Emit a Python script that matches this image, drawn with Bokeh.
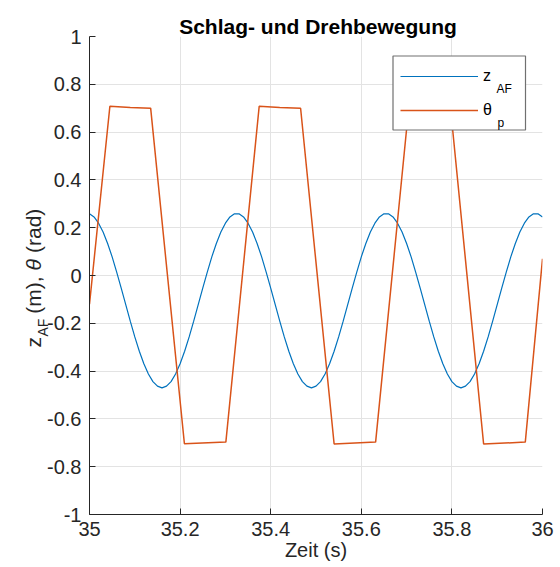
import math
from bokeh.plotting import figure
from bokeh.models import Range1d, FixedTicker, Label, Legend, LegendItem, BoxAnnotation
from bokeh.embed import file_html
from bokeh.resources import INLINE

# ---------------- data ----------------
t_z = [35.00, 35.01, 35.02, 35.03, 35.04, 35.05, 35.06, 35.07, 35.08, 35.09,
       35.10, 35.11, 35.12, 35.13, 35.14, 35.15, 35.16, 35.17, 35.18, 35.19,
       35.20, 35.21, 35.22, 35.23, 35.24, 35.25, 35.26, 35.27, 35.28, 35.29,
       35.30, 35.31, 35.32, 35.33, 35.34, 35.35, 35.36, 35.37, 35.38, 35.39,
       35.40, 35.41, 35.42, 35.43, 35.44, 35.45, 35.46, 35.47, 35.48, 35.49,
       35.50, 35.51, 35.52, 35.53, 35.54, 35.55, 35.56, 35.57, 35.58, 35.59,
       35.60, 35.61, 35.62, 35.63, 35.64, 35.65, 35.66, 35.67, 35.68, 35.69,
       35.70, 35.71, 35.72, 35.73, 35.74, 35.75, 35.76, 35.77, 35.78, 35.79,
       35.80, 35.81, 35.82, 35.83, 35.84, 35.85, 35.86, 35.87, 35.88, 35.89,
       35.90, 35.91, 35.92, 35.93, 35.94, 35.95, 35.96, 35.97, 35.98, 35.99,
       36.00]
z_af = [0.258, 0.245, 0.219, 0.182, 0.134, 0.078, 0.014, -0.053, -0.122, -0.191,
        -0.257, -0.317, -0.369, -0.412, -0.444, -0.463, -0.470, -0.463, -0.444, -0.412,
        -0.369, -0.317, -0.257, -0.191, -0.122, -0.053, 0.014, 0.078, 0.134, 0.182,
        0.219, 0.245, 0.258, 0.258, 0.245, 0.219, 0.182, 0.134, 0.078, 0.014,
        -0.053, -0.122, -0.191, -0.257, -0.317, -0.369, -0.412, -0.444, -0.463, -0.470,
        -0.463, -0.444, -0.412, -0.369, -0.317, -0.257, -0.191, -0.122, -0.053, 0.014,
        0.078, 0.134, 0.182, 0.219, 0.245, 0.258, 0.258, 0.245, 0.219, 0.182,
        0.134, 0.078, 0.014, -0.053, -0.122, -0.191, -0.257, -0.317, -0.369, -0.412,
        -0.444, -0.463, -0.470, -0.463, -0.444, -0.412, -0.369, -0.317, -0.257, -0.191,
        -0.122, -0.053, 0.014, 0.078, 0.134, 0.182, 0.219, 0.245, 0.258, 0.258,
        0.245]

t_theta = [35.000, 35.045, 35.090, 35.135, 35.2095, 35.301, 35.3746, 35.420, 35.466,
           35.540, 35.6316, 35.705, 35.750, 35.797, 35.870, 35.962, 36.000]
theta_p = [-0.120, 0.708, 0.703, 0.700, -0.704, -0.697, 0.708, 0.703, 0.700,
           -0.705, -0.697, 0.708, 0.703, 0.700, -0.705, -0.697, 0.070]

x_ticks = [35.0, 35.2, 35.4, 35.6, 35.8, 36.0]
x_tick_labels = ["35", "35.2", "35.4", "35.6", "35.8", "36"]
y_ticks = [-1.0, -0.8, -0.6, -0.4, -0.2, 0.0, 0.2, 0.4, 0.6, 0.8, 1.0]
y_tick_labels = ["-1", "-0.8", "-0.6", "-0.4", "-0.2", "0", "0.2", "0.4", "0.6", "0.8", "1"]

title_text = "Schlag- und Drehbewegung"
x_label = "Zeit (s)"
NB = "\u00a0"
y_label_main = "z" + NB * 4 + "(m)," + NB * 4 + "(rad)"
y_label_sub = "AF"
y_label_theta = "θ"
legend_labels = ["z", "θ"]
legend_subs = ["AF", "p"]

BLUE = "#0072BD"
ORANGE = "#D95319"
AX = "#262626"
FONT = "Liberation Sans"

# ---------------- layout constants ----------------
W, H = 560, 567
BL, BR, BT, BB = 89, 18, 36, 53
X0, X1, Y0, Y1 = 35.0, 36.0, -1.0, 1.0
frame_w = W - BL - BR
frame_h = H - BT - BB


def sx_to_x(sx):
    return X0 + (sx - BL) / frame_w * (X1 - X0)


def sy_to_y(sy):
    return Y1 - (sy - BT) / frame_h * (Y1 - Y0)


p = figure(width=W, height=H, output_backend="svg", toolbar_location=None,
           x_range=Range1d(X0, X1), y_range=Range1d(Y0, Y1),
           min_border_left=BL, min_border_right=BR, min_border_top=BT,
           min_border_bottom=BB)
p.outline_line_color = None
p.background_fill_color = "white"

for ax in (p.xaxis, p.yaxis):
    ax.axis_line_color = AX
    ax.axis_line_width = 1
    ax.major_tick_line_color = AX
    ax.major_tick_in = 6
    ax.major_tick_out = 0
    ax.minor_tick_line_color = None
    ax.major_label_text_font = FONT
    ax.major_label_text_font_size = "20px"
    ax.major_label_text_color = AX

p.xaxis.ticker = FixedTicker(ticks=x_ticks)
p.xaxis.major_label_overrides = dict(zip(x_ticks, x_tick_labels))
p.yaxis.ticker = FixedTicker(ticks=y_ticks)
p.yaxis.major_label_overrides = dict(zip(y_ticks, y_tick_labels))
p.xaxis.major_label_standoff = 7
p.yaxis.major_label_standoff = 8

p.xaxis.axis_label = x_label
p.xaxis.axis_label_text_font = FONT
p.xaxis.axis_label_text_font_size = "20px"
p.xaxis.axis_label_text_font_style = "normal"
p.xaxis.axis_label_text_color = AX
p.xaxis.axis_label_standoff = 0

p.xgrid.ticker = FixedTicker(ticks=x_ticks)
p.ygrid.ticker = FixedTicker(ticks=y_ticks)
p.xgrid.grid_line_color = "#e3e3e3"
p.ygrid.grid_line_color = "#e3e3e3"

r1 = p.line(t_z, z_af, line_color=BLUE, line_width=1.2)
r2 = p.line(t_theta, theta_p, line_color=ORANGE, line_width=1.5)

# legend box (white, bordered), drawn under the transparent legend
p.add_layout(BoxAnnotation(left=sx_to_x(392.5), right=sx_to_x(525),
                           top=sy_to_y(55.5), bottom=sy_to_y(129.5),
                           fill_color="white", fill_alpha=1.0,
                           line_color="#707070", line_width=1.2, line_alpha=1.0))

legend = Legend(items=[LegendItem(label=legend_labels[0], renderers=[r1]),
                       LegendItem(label=legend_labels[1], renderers=[r2])],
                location="top_right", margin=28, padding=0, spacing=10,
                glyph_width=78, glyph_height=24, label_height=24, label_width=31,
                label_standoff=5, label_text_font=FONT, label_text_font_size="16px",
                label_text_color="black", border_line_color=None,
                background_fill_alpha=0.0)
p.add_layout(legend)

# legend subscripts
p.add_layout(Label(x=sx_to_x(496), y=sy_to_y(88.5), text=legend_subs[0], text_font=FONT,
                   text_font_size="12px", text_color="black",
                   text_baseline="alphabetic", text_align="left"))
p.add_layout(Label(x=sx_to_x(497), y=sy_to_y(122), text=legend_subs[1], text_font=FONT,
                   text_font_size="12px", text_color="black",
                   text_baseline="alphabetic", text_align="left"))

# title (in the panel above the frame)
p.add_layout(Label(x=(X0 + X1) / 2, y=Y1, y_offset=10, x_offset=2, text=title_text,
                   text_font=FONT, text_font_size="21px", text_font_style="bold",
                   text_color="black", text_align="center",
                   text_baseline="alphabetic"), "above")


# y axis label (rotated, reading bottom to top)
def ylab(text, sy, base_sx, size, style="normal", panel="left"):
    p.add_layout(Label(x=X0, y=sy_to_y(sy), x_offset=base_sx - BL, text=text,
                       angle=math.pi / 2, text_font=FONT, text_font_size=size,
                       text_font_style=style, text_color=AX, text_align="left",
                       text_baseline="alphabetic"), panel)


ylab(y_label_main, 347, 33, "21px")
ylab(y_label_sub, 336, 42.5, "14px")
ylab(y_label_theta, 270, 33, "21px", "italic", "above")

open("out.html", "w").write(file_html(p, INLINE))
